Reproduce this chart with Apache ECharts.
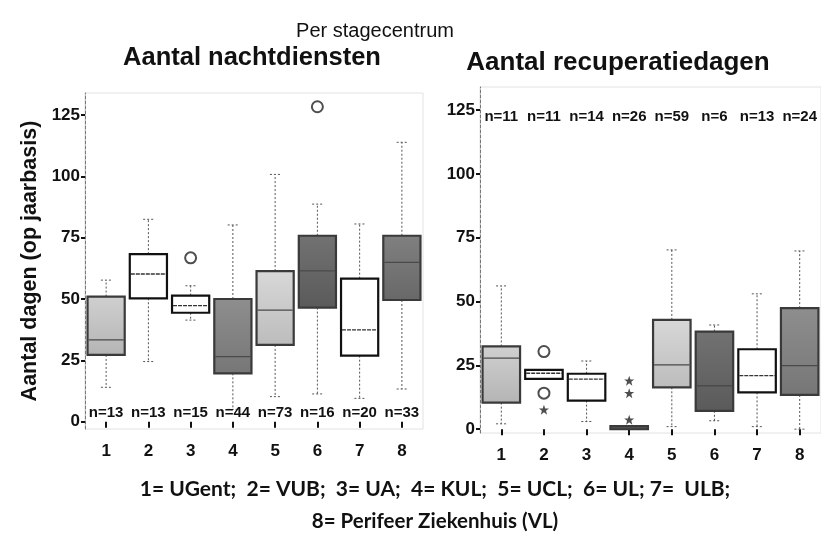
<!DOCTYPE html>
<html>
<head>
<meta charset="utf-8">
<script src="https://cdn.jsdelivr.net/npm/echarts@6/dist/echarts.min.js"></script>
<style>
  html, body { margin: 0; padding: 0; background: #fff; }
  #chart { width: 821px; height: 535px; }
</style>
</head>
<body>
<div id="chart"></div>
<script>
// Stage centres 1..8
const categories = ['1', '2', '3', '4', '5', '6', '7', '8'];
const yTicks = [0, 25, 50, 75, 100, 125];

// Night shifts per year: [low whisker, Q1, median, Q3, high whisker]
const nightLow    = [14, 24.5, 41.4, 5, 10.2, 11.3, 9.5, 13.3];
const nightQ1     = [27.2, 50.3, 44.4, 19.7, 31.3, 46.5, 26.9, 49.6];
const nightMedian = [33.3, 60.2, 47.3, 26.5, 45.5, 61.5, 37.4, 64.9];
const nightQ3     = [51, 68.3, 51.4, 50, 61.4, 75.8, 58.3, 75.8];
const nightHigh   = [57.7, 82.5, 55.4, 80.2, 100.8, 88.7, 80.6, 113.9];
const nightN      = [13, 13, 15, 44, 73, 16, 20, 33];
const nightCircles = [[2, 66.8], [5, 128.4]];

// Recovery days per year
const recovLow    = [2.1, 19.7, 3, 0, 1, 3.3, 1, 0];
const recovQ1     = [10.4, 19.7, 11.2, 0, 16.4, 7.2, 14.4, 13.4];
const recovMedian = [27.8, 21.9, 19.6, 0.5, 25.2, 17, 21, 24.9];
const recovQ3     = [32.4, 23.2, 21.7, 1.2, 42.8, 38.2, 31.3, 47.4];
const recovHigh   = [56.1, 23.2, 26.7, 1.2, 70.2, 40.8, 53, 69.8];
const recovN      = [11, 11, 14, 26, 59, 6, 13, 24];
const recovCircles = [[1, 30.4], [1, 14.1]];
const recovStars   = [[1, 7.6], [3, 19], [3, 14.1], [3, 3.7]];

// Box fill shades per centre
const nightShade = ['light', 'white', 'white', 'mid', 'light2', 'dark', 'white', 'dark2'];
const recovShade = ['light', 'white', 'white', 'dark', 'light2', 'dark', 'white', 'mid'];
const shades = {
  white:  null,
  light:  ['#d0d0d0', '#b4b4b4'],
  light2: ['#d8d8d8', '#bcbcbc'],
  mid:    ['#8e8e8e', '#767676'],
  dark:   ['#727272', '#5a5a5a'],
  dark2:  ['#808080', '#686868']
};

const FONT = '"Liberation Sans", Arial, sans-serif';
const FOOT_FONT = 'Lato, "Open Sans", sans-serif';

function rows(lo, q1, med, q3, hi) {
  return categories.map((c, i) => [i, lo[i], q1[i], med[i], q3[i], hi[i]]);
}

function boxRenderer(shadeList) {
  return function (params, api) {
    const i = api.value(0);
    const pLo = api.coord([i, api.value(1)]);
    const pQ1 = api.coord([i, api.value(2)]);
    const pMed = api.coord([i, api.value(3)]);
    const pQ3 = api.coord([i, api.value(4)]);
    const pHi = api.coord([i, api.value(5)]);
    const band = api.size([1, 0])[0];
    const bw = band * 0.88;
    const cx = pMed[0];
    const x0 = cx - bw / 2;
    const capW = bw * 0.28;
    const sh = shades[shadeList[i]];
    const fill = sh ? new echarts.graphic.LinearGradient(0, 0, 0, 1, [
      { offset: 0, color: sh[0] }, { offset: 1, color: sh[1] }
    ]) : '#ffffff';
    const border = sh ? '#3a3a3a' : '#111111';
    const whisk = { stroke: '#555', lineWidth: 1, lineDash: [2, 2] };
    const children = [];
    if (pHi[1] < pQ3[1] - 0.5) {
      children.push({ type: 'line', shape: { x1: cx, y1: pQ3[1], x2: cx, y2: pHi[1] }, style: whisk });
      children.push({ type: 'line', shape: { x1: cx - capW / 2, y1: pHi[1], x2: cx + capW / 2, y2: pHi[1] }, style: whisk });
    }
    if (pLo[1] > pQ1[1] + 0.5) {
      children.push({ type: 'line', shape: { x1: cx, y1: pQ1[1], x2: cx, y2: pLo[1] }, style: whisk });
      children.push({ type: 'line', shape: { x1: cx - capW / 2, y1: pLo[1], x2: cx + capW / 2, y2: pLo[1] }, style: whisk });
    }
    const h = Math.max(pQ1[1] - pQ3[1], 1);
    children.push({
      type: 'rect',
      shape: { x: x0, y: pQ3[1], width: bw, height: h },
      style: { fill: fill, stroke: border, lineWidth: 2.2 }
    });
    children.push({
      type: 'line',
      shape: { x1: x0 + 1, y1: pMed[1], x2: x0 + bw - 1, y2: pMed[1] },
      style: { stroke: sh ? '#4a4a4a' : '#333', lineWidth: 1.3, lineDash: sh ? null : [4, 1] }
    });
    return { type: 'group', children: children };
  };
}

function nRenderer(nList, yVal) {
  return function (params, api) {
    const i = api.value(0);
    const p = api.coord([i, yVal]);
    return {
      type: 'text',
      x: p[0], y: p[1],
      style: {
        text: 'n=' + nList[i], fill: '#111',
        font: 'bold 15px ' + FONT,
        align: 'center', verticalAlign: 'middle'
      }
    };
  };
}

const starPath = 'path://M12 0 L15 9 L24 9 L17 14.5 L19.5 24 L12 18 L4.5 24 L7 14.5 L0 9 L9 9 Z';

function yAxisCfg(gridIndex, min, max) {
  return {
    type: 'value', gridIndex: gridIndex, min: min, max: max,
    axisLine: { show: true, lineStyle: { color: '#777', width: 1, type: [3, 2] } },
    axisTick: { show: true, customValues: yTicks, length: 4, lineStyle: { color: '#111', width: 2 } },
    axisLabel: {
      customValues: yTicks, margin: 5, color: '#111',
      fontFamily: FONT, fontWeight: 'bold', fontSize: 17
    },
    splitLine: { show: false }
  };
}

function xAxisCfg(gridIndex, offset, margin) {
  return {
    type: 'category', gridIndex: gridIndex, data: categories,
    offset: offset,
    axisLine: { show: false },
    axisTick: { show: true, alignWithLabel: true, length: 6, lineStyle: { color: '#111', width: 2 } },
    axisLabel: { margin: margin, color: '#111', fontFamily: FONT, fontWeight: 'bold', fontSize: 17 }
  };
}

const circleStyle = { color: '#222', borderColor: '#222', borderWidth: 1.5 };

const option = {
  backgroundColor: '#ffffff',
  animation: false,
  grid: [
    { left: 85, top: 93, width: 338, height: 336, show: true, borderColor: '#e2e2e2', borderWidth: 1 },
    { left: 480, top: 87, width: 341, height: 346, show: true, borderColor: '#e2e2e2', borderWidth: 1 }
  ],
  xAxis: [xAxisCfg(0, 3, 11), xAxisCfg(1, 3, 11)],
  yAxis: [yAxisCfg(0, -3, 134), yAxisCfg(1, -1.5, 134)],
  graphic: [
    { type: 'text', x: 375, y: 31, style: { text: 'Per stagecentrum', font: '20px ' + FONT, fill: '#111', align: 'center', verticalAlign: 'middle' } },
    { type: 'text', x: 252, y: 58, style: { text: 'Aantal nachtdiensten', font: 'bold 25.5px ' + FONT, fill: '#111', align: 'center', verticalAlign: 'middle' } },
    { type: 'text', x: 618, y: 63, style: { text: 'Aantal recuperatiedagen', font: 'bold 26px ' + FONT, fill: '#111', align: 'center', verticalAlign: 'middle' } },
    { type: 'text', x: 30, y: 261, rotation: Math.PI / 2, style: { text: 'Aantal dagen (op jaarbasis)', font: 'bold 21.5px ' + FONT, fill: '#111', align: 'center', verticalAlign: 'middle' } },
    { type: 'text', x: 435, y: 489, style: { text: '1= UGent;  2= VUB;  3= UA;  4= KUL;  5= UCL;  6= UL; 7=  ULB;', font: 'bold 21px ' + FOOT_FONT, fill: '#111', align: 'center', verticalAlign: 'middle' } },
    { type: 'text', x: 435, y: 521, style: { text: '8= Perifeer Ziekenhuis (VL)', font: 'bold 20.5px ' + FOOT_FONT, fill: '#111', align: 'center', verticalAlign: 'middle' } }
  ],
  series: [
    {
      type: 'custom', xAxisIndex: 0, yAxisIndex: 0,
      renderItem: boxRenderer(nightShade),
      encode: { x: 0, y: [1, 2, 3, 4, 5] },
      data: rows(nightLow, nightQ1, nightMedian, nightQ3, nightHigh)
    },
    {
      type: 'custom', xAxisIndex: 0, yAxisIndex: 0,
      renderItem: nRenderer(nightN, 3.7),
      encode: { x: 0, y: 1 },
      data: categories.map((c, i) => [i, 0])
    },
    {
      type: 'scatter', xAxisIndex: 0, yAxisIndex: 0,
      symbol: 'emptyCircle', symbolSize: 11,
      itemStyle: circleStyle,
      data: nightCircles
    },
    {
      type: 'custom', xAxisIndex: 1, yAxisIndex: 1,
      renderItem: boxRenderer(recovShade),
      encode: { x: 0, y: [1, 2, 3, 4, 5] },
      data: rows(recovLow, recovQ1, recovMedian, recovQ3, recovHigh)
    },
    {
      type: 'custom', xAxisIndex: 1, yAxisIndex: 1,
      renderItem: nRenderer(recovN, 122.3),
      encode: { x: 0, y: 1 },
      data: categories.map((c, i) => [i, 0])
    },
    {
      type: 'scatter', xAxisIndex: 1, yAxisIndex: 1,
      symbol: 'emptyCircle', symbolSize: 11,
      itemStyle: circleStyle,
      data: recovCircles
    },
    {
      type: 'scatter', xAxisIndex: 1, yAxisIndex: 1,
      symbol: starPath, symbolSize: 10,
      itemStyle: { color: '#222' },
      data: recovStars
    }
  ]
};

const chart = echarts.init(document.getElementById('chart'), null, { renderer: 'canvas' });
chart.setOption(option);
</script>
</body>
</html>
